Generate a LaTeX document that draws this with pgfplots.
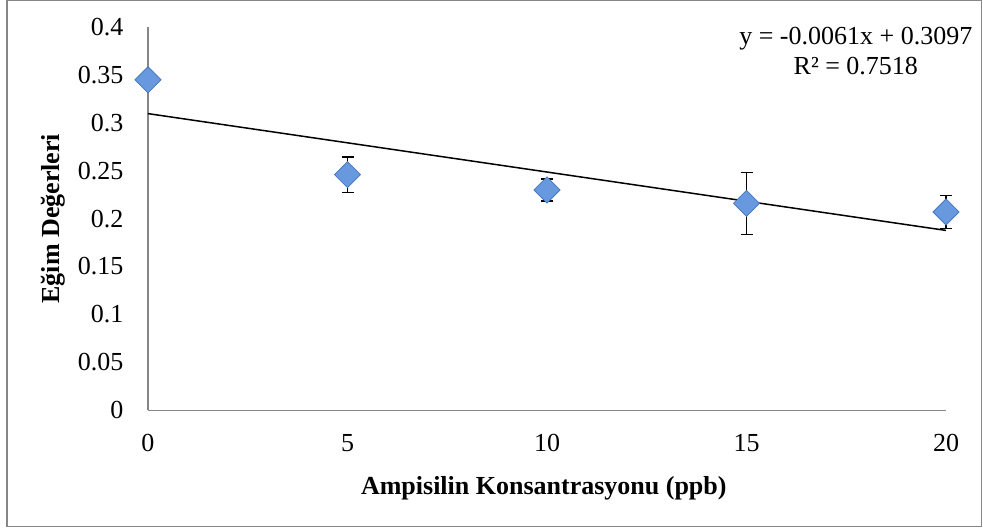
\documentclass[border=0pt]{standalone}
\usepackage{pgfplots}
\pgfplotsset{compat=1.18}
\usepackage{fontspec}
\setmainfont{Liberation Serif}
\definecolor{axgray}{RGB}{134,134,134}
\definecolor{mkfill}{RGB}{104,152,222}
\definecolor{mkdraw}{RGB}{70,118,190}
\begin{document}
\begin{tikzpicture}[x=1pt,y=1pt]
\begin{axis}[
  at={(0,0)}, anchor=origin,
  scale only axis,
  width=798pt, height=383pt,
  xmin=0, xmax=20, ymin=0, ymax=0.4,
  axis x line*=bottom, axis y line*=left,
  axis line style={axgray, line width=1.3pt, -},
  xtick={0,5,10,15,20},
  ytick={0,0.05,0.1,0.15,0.2,0.25,0.3,0.35,0.4},
  major tick length=0pt,
  xtick style={draw=none}, ytick style={draw=none},
  /pgf/number format/assume math mode=true,
  yticklabel style={/pgf/number format/fixed, /pgf/number format/precision=2, font=\fontsize{26}{30}\selectfont, anchor=east, xshift=-21pt},
  xticklabel style={font=\fontsize{26}{30}\selectfont, anchor=center, yshift=-33pt},
  xlabel={\textbf{Ampisilin Konsantrasyonu (ppb)}},
  ylabel={\textbf{Eğim Değerleri}},
  xlabel style={font=\fontsize{26}{30}\selectfont, at={(axis description cs:0.496,-0.204)}, anchor=center},
  ylabel style={font=\fontsize{26}{30}\selectfont, at={(axis description cs:-0.119,0.5)}, anchor=center},
  clip=false,
]
\addplot[only marks, mark=square*, mark size=9.2pt,
  mark options={rotate=45, fill=mkfill, draw=mkdraw, line width=0.8pt},
  error bars/.cd, y dir=both, y explicit,
  error bar style={black, line width=1.3pt},
  error mark options={rotate=90, mark size=6pt, black, line width=1.3pt}]
  coordinates {
  (0,0.345) +- (0,0)
  (5,0.246) +- (0,0.0185)
  (10,0.230) +- (0,0.0115)
  (15,0.216) +- (0,0.0325)
  (20,0.207) +- (0,0.0175)
};
\addplot[black, line width=1.5pt, no marks] coordinates {(0,0.3097) (20,0.1877)};
\node[align=center, font=\fontsize{26}{30}\selectfont] at (rel axis cs:0.887,0.937)
  {y = -0.0061x + 0.3097\\R² = 0.7518};
\end{axis}
\draw[axgray, line width=1.3pt] (-141,-116.5) rectangle (833.5,409.5);
\path (-148,-118) rectangle (835,410);
\end{tikzpicture}
\end{document}
